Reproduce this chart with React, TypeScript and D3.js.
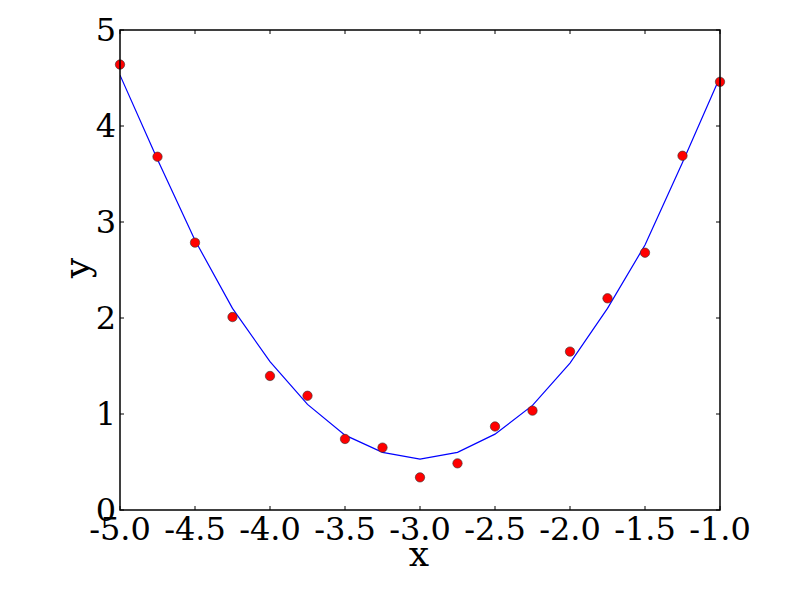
import React from "react";
import * as d3 from "d3";

const xValues = [-5, -4.75, -4.5, -4.25, -4, -3.75, -3.5, -3.25, -3, -2.75, -2.5, -2.25, -2, -1.75, -1.5, -1.25, -1];
const dataY = [4.64, 3.68, 2.785, 2.01, 1.396, 1.19, 0.74, 0.65, 0.34, 0.486, 0.87, 1.035, 1.65, 2.205, 2.68, 3.69, 4.46];
const fitY = [4.53, 3.65, 2.81, 2.1, 1.545, 1.1, 0.78, 0.6, 0.53, 0.6, 0.79, 1.09, 1.53, 2.1, 2.76, 3.62, 4.51];
const xTicks = [-5, -4.5, -4, -3.5, -3, -2.5, -2, -1.5, -1];
const yTicks = [0, 1, 2, 3, 4, 5];

const W = 800, H = 600;
const L = 120, R = 720, T = 30, B = 510;
const font = "'DejaVu Serif', serif";

export default function App() {
  const x = d3.scaleLinear().domain([-5, -1]).range([L, R]);
  const y = d3.scaleLinear().domain([0, 5]).range([B, T]);
  const line = d3.line<number>().x((_, i) => x(xValues[i])).y((d) => y(d));
  const tl = 4;
  return (
    <svg width={W} height={H} style={{ position: "absolute", left: 0, top: 0, background: "#fff" }}>
      <rect x={0} y={0} width={W} height={H} fill="#fff" />
      <defs>
        <clipPath id="clip">
          <rect x={L} y={T} width={R - L} height={B - T} />
        </clipPath>
      </defs>
      <g clipPath="url(#clip)">
        <path d={line(fitY) || ""} fill="none" stroke="#0000ff" strokeWidth={1.2} />
      </g>
      {dataY.map((d, i) => (
        <circle key={i} cx={x(xValues[i])} cy={y(d)} r={4.7} fill="#ff0000" stroke="#333" strokeWidth={0.6} />
      ))}
      {xTicks.map((t) => (
        <g key={"x" + t}>
          <line x1={x(t)} x2={x(t)} y1={B} y2={B - tl} stroke="#000" strokeWidth={1} />
          <line x1={x(t)} x2={x(t)} y1={T} y2={T + tl} stroke="#000" strokeWidth={1} />
          <text x={x(t)} y={540} textAnchor="middle" fontFamily={font} fontSize={32} fill="#000">
            {t.toFixed(1)}
          </text>
        </g>
      ))}
      {yTicks.map((t) => (
        <g key={"y" + t}>
          <line x1={L} x2={L + tl} y1={y(t)} y2={y(t)} stroke="#000" strokeWidth={1} />
          <line x1={R} x2={R - tl} y1={y(t)} y2={y(t)} stroke="#000" strokeWidth={1} />
          <text x={116} y={y(t) + 11} textAnchor="end" fontFamily={font} fontSize={32} fill="#000">
            {t}
          </text>
        </g>
      ))}
      <rect x={L} y={T} width={R - L} height={B - T} fill="none" stroke="#000" strokeWidth={1.5} />
      <text x={419} y={566} textAnchor="middle" fontFamily={font} fontSize={36} fill="#000">x</text>
      <text transform={`translate(89,268) rotate(-90)`} textAnchor="middle" fontFamily={font} fontSize={36} fill="#000">y</text>
    </svg>
  );
}
